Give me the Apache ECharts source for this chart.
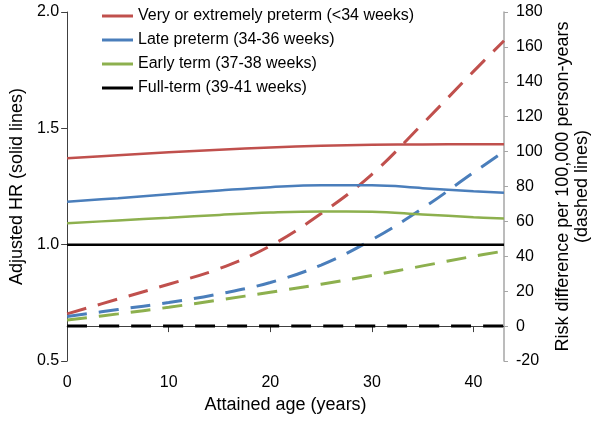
<!DOCTYPE html>
<html>
<head>
<meta charset="utf-8">
<script src="https://cdn.jsdelivr.net/npm/echarts@6/dist/echarts.min.js"></script>
<style>html,body{margin:0;padding:0;background:#fff}#c{width:600px;height:423px}</style>
</head>
<body>
<div id="c"></div>
<script>
const ages = [0, 5, 10, 15, 20, 25, 30, 35, 40, 43];
const seriesNames = ['Very or extremely preterm (<34 weeks)', 'Late preterm (34-36 weeks)', 'Early term (37-38 weeks)', 'Full-term (39-41 weeks)'];
// Adjusted HR (solid lines, left axis)
const hrVery  = [1.371, 1.384, 1.397, 1.408, 1.418, 1.425, 1.429, 1.431, 1.432, 1.432];
const hrLate  = [1.184, 1.200, 1.217, 1.233, 1.247, 1.255, 1.255, 1.243, 1.230, 1.223];
const hrEarly = [1.092, 1.104, 1.116, 1.128, 1.138, 1.143, 1.142, 1.130, 1.118, 1.112];
const hrFull  = [1, 1, 1, 1, 1, 1, 1, 1, 1, 1];
// Risk difference per 100,000 person-years (dashed lines, right axis)
const rdVery  = [7, 15.5, 24, 33, 46, 64.5, 87, 116, 146, 163.5];
const rdLate  = [5.5, 9.5, 13.5, 18.5, 25, 35, 49.5, 67.5, 88, 100];
const rdEarly = [3.5, 7, 10.8, 15, 19.4, 24, 29, 34.5, 40, 43];
const rdFull  = [0, 0, 0, 0, 0, 0, 0, 0, 0, 0];
const xTicks = [0, 10, 20, 30, 40];

const colors = ['#C0504D', '#4A7EBB', '#8DB04E', '#000000'];
const pair = (ys) => ages.map((a, i) => [a, ys[i]]);

const solid = [hrVery, hrLate, hrEarly, hrFull].map((d, i) => ({
  name: seriesNames[i], type: 'line', yAxisIndex: 0, data: pair(d), smooth: 0.4,
  symbol: 'none', color: colors[i], lineStyle: { width: 2.5, color: colors[i] }, z: 3
}));
const dashed = [rdVery, rdLate, rdEarly, rdFull].map((d, i) => ({
  name: 'RD ' + seriesNames[i], type: 'line', yAxisIndex: 1, data: pair(d), smooth: 0.4,
  symbol: 'none', color: colors[i], lineStyle: { width: 3, color: colors[i], type: [20, 12] }, z: 2
}));

const chart = echarts.init(document.getElementById('c'), null, { renderer: 'canvas' });
const font = 'Liberation Sans, Arial, sans-serif';
chart.setOption({
  animation: false,
  textStyle: { fontFamily: font },
  grid: { left: 66, right: 90, top: 12, bottom: 62, containLabel: false },
  legend: {
    data: seriesNames, orient: 'vertical', left: 97, top: 3,
    icon: 'rect', itemWidth: 31, itemHeight: 3, itemGap: 8,
    textStyle: { fontSize: 16, color: '#000', fontFamily: font, lineHeight: 16 }
  },
  xAxis: {
    type: 'value', min: 0, max: 43, interval: 10,
    name: 'Attained age (years)', nameLocation: 'middle', nameGap: 35,
    nameTextStyle: { fontSize: 18, color: '#000', fontFamily: font },
    axisLine: { lineStyle: { color: '#404040', width: 1 } },
    axisTick: { show: true, length: 6, lineStyle: { color: '#404040' },
      customValues: xTicks },
    axisLabel: { fontSize: 16, color: '#000', margin: 14, customValues: xTicks },
    splitLine: { show: false }
  },
  yAxis: [{
    type: 'value', min: 0.5, max: 2.0, interval: 0.5, position: 'left',
    name: 'Adjusted HR (solid lines)', nameLocation: 'middle', nameGap: 41, nameRotate: 90,
    nameTextStyle: { fontSize: 18, color: '#000', fontFamily: font },
    axisLine: { show: true, lineStyle: { color: '#404040', width: 1 } },
    axisTick: { show: true, length: 6, lineStyle: { color: '#404040' } },
    axisLabel: { fontSize: 16, color: '#000', margin: 8, formatter: v => v.toFixed(1) },
    splitLine: { show: false }
  }, {
    type: 'value', min: -20, max: 180, interval: 20, position: 'right',
    name: 'Risk difference per 100,000 person-years\n(dashed lines)', nameLocation: 'middle', nameGap: 50, nameRotate: 90,
    nameTextStyle: { fontSize: 18, color: '#000', fontFamily: font, lineHeight: 19 },
    axisLine: { show: true, lineStyle: { color: '#A6A6A6', width: 1.5 } },
    axisTick: { show: true, length: 4, lineStyle: { color: '#A6A6A6' } },
    axisLabel: { fontSize: 16, color: '#000', margin: 12 },
    splitLine: { show: false }
  }],
  series: solid.concat(dashed)
});
</script>
</body>
</html>
